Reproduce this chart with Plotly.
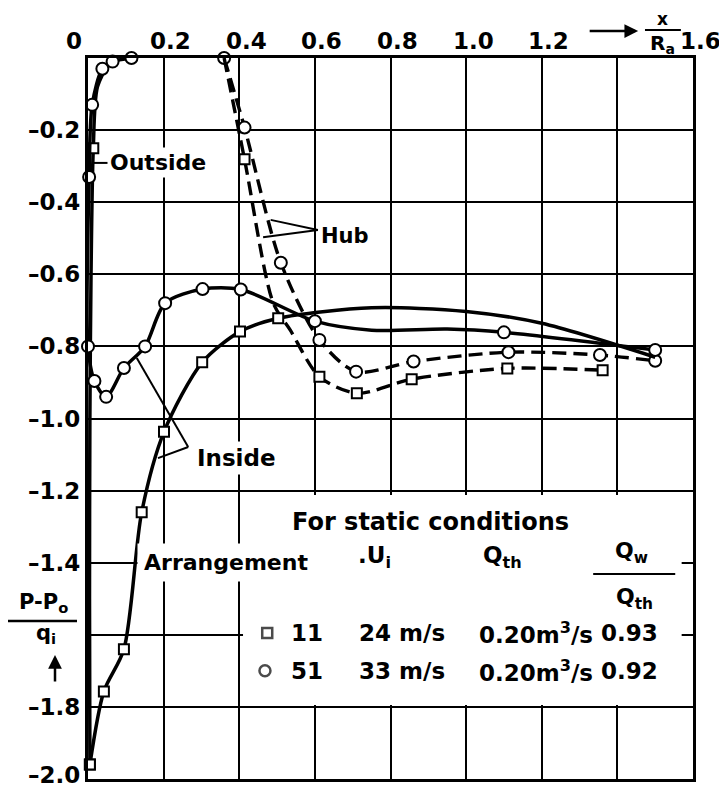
import plotly.graph_objects as go

# ---------------- data ----------------
# Arrangement 51 (circles): outside branch flowing into the inside branch
c51_x = [0.115, 0.065, 0.038, 0.011, 0.003, 0.0, 0.017, 0.048, 0.095, 0.151, 0.204, 0.303, 0.404, 0.60, 0.75, 0.95, 1.10, 1.50]
c51_y = [0.0, -0.01, -0.03, -0.13, -0.33, -0.80, -0.896, -0.94, -0.86, -0.80, -0.68, -0.641, -0.642, -0.73, -0.755, -0.752, -0.761, -0.81]
c51_mark = [1, 1, 1, 1, 1, 1, 1, 1, 1, 1, 1, 1, 1, 1, 0, 0, 1, 1]

# Arrangement 11 (squares): outside branch
s11o_x = [0.06, 0.025, 0.014, 0.008, 0.005, 0.004, 0.005]
s11o_y = [-0.005, -0.08, -0.25, -0.6, -1.0, -1.5, -1.96]
s11o_mark = [0, 0, 1, 0, 0, 0, 1]
# Arrangement 11 (squares): inside branch
s11i_x = [0.005, 0.042, 0.095, 0.142, 0.201, 0.302, 0.402, 0.503, 0.75, 1.0, 1.2, 1.5]
s11i_y = [-1.96, -1.757, -1.64, -1.26, -1.037, -0.844, -0.759, -0.722, -0.693, -0.703, -0.736, -0.83]
s11i_mark = [1, 1, 1, 1, 1, 1, 1, 1, 0, 0, 0, 0]

# Hub (dashed)
h51_x = [0.36, 0.414, 0.51, 0.612, 0.709, 0.861, 1.112, 1.354, 1.5]
h51_y = [0.0, -0.193, -0.568, -0.782, -0.870, -0.842, -0.816, -0.824, -0.84]
h51_mark = [1, 1, 1, 1, 1, 1, 1, 1, 1]
h11_x = [0.36, 0.414, 0.49, 0.535, 0.612, 0.711, 0.856, 1.109, 1.361]
h11_y = [0.0, -0.281, -0.68, -0.755, -0.884, -0.930, -0.891, -0.861, -0.866]
h11_mark = [0, 1, 0, 0, 1, 1, 1, 1, 1]

# axis tick labels
x_ticks = [0.2, 0.4, 0.6, 0.8, 1.0, 1.2, 1.6]
x_tick_text = ["0.2", "0.4", "0.6", "0.8", "1.0", "1.2", "1.6"]
y_ticks = [-0.2, -0.4, -0.6, -0.8, -1.0, -1.2, -1.4, -1.8, -2.0]
y_tick_text = ["–0.2", "–0.4", "–0.6", "–0.8", "–1.0", "–1.2", "–1.4", "–1.8", "–2.0"]

# legend table
arrangements = ["11", "51"]
u_i = ["24 m/s", "33 m/s"]
q_th = ["0.20m<sup>3</sup>/s", "0.20m<sup>3</sup>/s"]
qw_qth = ["0.93", "0.92"]
symbols = ["square", "circle"]

FONT = "DejaVu Sans"
BLACK = "black"


def fnt(size=22):
    return dict(family=FONT, size=size, color=BLACK, weight="bold")


fig = go.Figure()


def add_curve(xs, ys, marks, symbol, dash=None, width=3.5, msize=12):
    fig.add_trace(go.Scatter(
        x=xs, y=ys, mode="lines",
        line=dict(color=BLACK, width=width, shape="spline", smoothing=0.8,
                  dash=dash if dash else "solid"),
        cliponaxis=False, hoverinfo="skip", showlegend=False))
    mx = [x for x, m in zip(xs, marks) if m]
    my = [y for y, m in zip(ys, marks) if m]
    fig.add_trace(go.Scatter(
        x=mx, y=my, mode="markers",
        marker=dict(symbol=symbol, size=msize, color="white",
                    line=dict(color=BLACK, width=2)),
        cliponaxis=False, hoverinfo="skip", showlegend=False))


add_curve(h51_x, h51_y, h51_mark, "circle", dash="14px,7px", width=3.4)
add_curve(h11_x, h11_y, h11_mark, "square", dash="14px,7px", width=3.4, msize=10)
add_curve(s11o_x, s11o_y, s11o_mark, "square", width=3.5, msize=10)
add_curve(s11i_x, s11i_y, s11i_mark, "square", width=3.5, msize=10)
add_curve(c51_x, c51_y, c51_mark, "circle", width=3.5)

# legend table symbols
fig.add_trace(go.Scatter(
    x=[0.474, 0.468], y=[-1.595, -1.70], mode="markers",
    marker=dict(symbol=symbols, size=[10, 11], color="white",
                line=dict(color=BLACK, width=2.5)),
    cliponaxis=False, hoverinfo="skip", showlegend=False))

shapes = []
# white area hiding the grid behind the table
shapes.append(dict(type="rect", xref="x", yref="y", x0=0.41, x1=1.57, y0=-1.795, y1=-1.212,
                   fillcolor="white", line=dict(width=0), layer="between"))

ann = []


def A(**kw):
    kw.setdefault("showarrow", False)
    kw.setdefault("xanchor", "center")
    kw.setdefault("yanchor", "middle")
    ann.append(kw)


# top x tick labels
A(x=0, y=1, xref="x", yref="paper", text="0", xshift=-14, yshift=17, font=fnt(23))
for v, t in zip(x_ticks, x_tick_text):
    A(x=v, y=1, xref="x", yref="paper", text=t, xshift=7, yshift=17, font=fnt(23))
# arrow and x/Ra
ann.append(dict(x=1.455, y=1, xref="x", yref="paper", ax=-50, ay=0, text="",
                showarrow=True, arrowhead=2, arrowsize=1.1, arrowwidth=2.5, arrowcolor=BLACK,
                yshift=27))
A(x=1.52, y=1, xref="x", yref="paper", text="x", yshift=39, font=fnt(17))
A(x=1.52, y=1, xref="x", yref="paper", text="R<sub>a</sub>", yshift=14, font=fnt(20))
shapes.append(dict(type="line", xref="paper", yref="paper",
                   x0=1.473 / 1.6, x1=1.568 / 1.6, y0=1 + 28 / 721, y1=1 + 28 / 721,
                   line=dict(color=BLACK, width=2)))

# left y tick labels
for v, t in zip(y_ticks, y_tick_text):
    A(x=0, y=v, xref="paper", yref="y", text=t, xanchor="right", xshift=-6,
      yshift=4 if v <= -1.99 else 0, font=fnt(23))
# y-axis label  (P-P0)/qi with arrow
A(x=-45 / 605, y=-1.512, xref="paper", yref="y", text="P-P<sub>o</sub>", font=fnt(21))
shapes.append(dict(type="line", xref="paper", yref="y", x0=-80 / 605, x1=-11 / 605,
                   y0=-1.562, y1=-1.562, line=dict(color=BLACK, width=2.5)))
A(x=-42 / 605, y=-1.598, xref="paper", yref="y", text="q<sub>i</sub>", font=fnt(21))
ann.append(dict(x=-33 / 605, y=-1.656, xref="paper", yref="y", ax=0, ay=28, text="",
                showarrow=True, arrowhead=2, arrowsize=1.1, arrowwidth=2.5, arrowcolor=BLACK))

# curve labels
A(x=0.185, y=-0.291, text="Outside", font=fnt(22), bgcolor="white", borderpad=2)
shapes.append(dict(type="line", x0=0.013, x1=0.058, y0=-0.291, y1=-0.291,
                   line=dict(color=BLACK, width=2)))
A(x=0.68, y=-0.494, text="Hub", font=fnt(21))
shapes.append(dict(type="line", x0=0.483, x1=0.608, y0=-0.449, y1=-0.477,
                   line=dict(color=BLACK, width=2)))
shapes.append(dict(type="line", x0=0.463, x1=0.608, y0=-0.497, y1=-0.477,
                   line=dict(color=BLACK, width=2)))
A(x=0.392, y=-1.11, text="Inside", font=fnt(23), bgcolor="white", borderpad=3)
shapes.append(dict(type="line", x0=0.129, x1=0.265, y0=-0.832, y1=-1.079,
                   line=dict(color=BLACK, width=2)))
shapes.append(dict(type="line", x0=0.185, x1=0.265, y0=-1.11, y1=-1.079,
                   line=dict(color=BLACK, width=2)))
A(x=0.365, y=-1.40, text="Arrangement", font=fnt(22), bgcolor="white", borderpad=6)

# table
A(x=0.905, y=-1.287, text="For static conditions", font=fnt(24))
A(x=0.757, y=-1.385, text=".U<sub>i</sub>", font=fnt(23))
A(x=1.095, y=-1.385, text="Q<sub>th</sub>", font=fnt(23))
A(x=1.437, y=-1.373, text="Q<sub>w</sub>", font=fnt(22))
shapes.append(dict(type="line", x0=1.336, x1=1.553, y0=-1.431, y1=-1.431,
                   line=dict(color=BLACK, width=2)))
A(x=1.444, y=-1.50, text="Q<sub>th</sub>", font=fnt(22))
row_y = [-1.595, -1.70]
for i in range(2):
    A(x=0.579, y=row_y[i], text=arrangements[i], font=fnt(23))
    A(x=0.831, y=row_y[i], text=u_i[i], font=fnt(23))
    A(x=1.185, y=row_y[i], text=q_th[i], font=fnt(23))
    A(x=1.431, y=row_y[i], text=qw_qth[i], font=fnt(23))

axis_common = dict(showgrid=True, gridcolor=BLACK, gridwidth=2, zeroline=False,
                   showline=True, linecolor=BLACK, linewidth=3, mirror=True,
                   showticklabels=False, ticks="", dtick=0.2)
# page body has an 8px margin, so the figure is 8px smaller and margins shifted
fig.update_layout(
    width=719, height=781, autosize=False,
    margin=dict(l=80, r=34, t=50, b=10),
    paper_bgcolor="white", plot_bgcolor="white",
    xaxis=dict(range=[0, 1.6], tick0=0, **axis_common),
    yaxis=dict(range=[-2.0, 0], tick0=0, **axis_common),
    shapes=shapes, annotations=ann, showlegend=False,
)

fig.write_html("out.html")
